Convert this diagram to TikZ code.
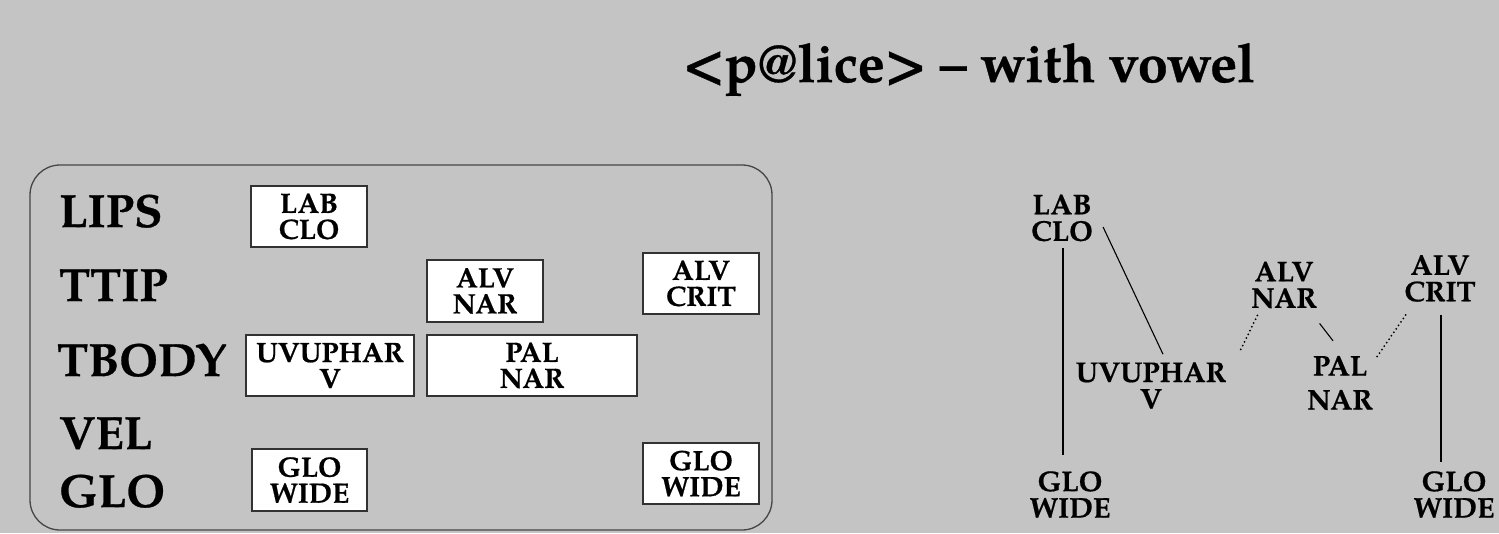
\documentclass[tikz,border=0pt]{standalone}
\usepackage{fontspec}
\setmainfont{texgyrepagella}[Extension=.otf,UprightFont=*-regular,BoldFont=*-bold,ItalicFont=*-italic,BoldItalicFont=*-bolditalic,BoldFeatures={FakeBold=0.6}]
\usetikzlibrary{calc}
\definecolor{bg}{RGB}{195,196,195}
\definecolor{frame}{RGB}{70,70,70}
\definecolor{boxline}{RGB}{50,50,50}
\tikzset{
  rowlabel/.style={anchor=base west,inner sep=0pt,font=\bfseries\fontsize{46.5}{50}\selectfont},
  gbox/.style={draw=boxline,line width=1.1pt,fill=white,align=center,inner sep=0pt,font=\bfseries\fontsize{28}{26}\selectfont},
  plain/.style={align=center,inner sep=0pt,font=\bfseries\fontsize{28.5}{26.5}\selectfont},
  link/.style={line width=1.1pt,black},
  dotlink/.style={line width=2pt,black,dash pattern=on 0pt off 4.2pt,line cap=round}
}
\begin{document}
\begin{tikzpicture}[x=1pt,y=-1pt]
\useasboundingbox (0,0) rectangle (1499,533);
\fill[bg] (0,0) rectangle (1499,533);
% title
\node[anchor=base,inner sep=0pt,font=\bfseries\fontsize{54}{60}\selectfont] (title) at (969,82) {<p@lice> – with vowel};
% frame
\draw[frame,line width=1.3pt,rounded corners=30pt] (30,165) rectangle (772,530);
% row labels
\node[rowlabel] (lips) at (59,227) {LIPS};
\node[rowlabel] (ttip) at (59,301) {TTIP};
\node[rowlabel] (tbody) at (57,376) {TBODY};
\node[rowlabel] (vel) at (59,449) {VEL};
\node[rowlabel] (glo) at (59,507) {GLO};
% gestural boxes
\node[gbox,minimum width=116pt,minimum height=61pt] (blab) at (309,216.5) {LAB\\CLO};
\node[gbox,minimum width=168pt,minimum height=61pt] (buvu) at (330,365.5) {UVUPHAR\\V};
\node[gbox,minimum width=115pt,minimum height=62pt] (bglol) at (309.5,480) {GLO\\WIDE};
\node[gbox,minimum width=116pt,minimum height=62pt] (balvnar) at (485,291) {ALV\\NAR};
\node[gbox,minimum width=210pt,minimum height=61pt] (bpal) at (532,365.5) {PAL\\NAR};
\node[gbox,minimum width=116pt,minimum height=61pt] (balvcrit) at (701,283.5) {ALV\\CRIT};
\node[gbox,minimum width=116pt,minimum height=61pt] (bglor) at (701,473.5) {GLO\\WIDE};
% right-hand graph
\node[plain] (rlab) at (1062,218) {LAB\\CLO};
\node[plain] (rglol) at (1070,494.5) {GLO\\WIDE};
\node[plain] (ruvu) at (1151,385.5) {UVUPHAR\\V};
\node[plain] (ralvnar) at (1284,285) {ALV\\NAR};
\node[plain,font=\bfseries\fontsize{28.5}{34}\selectfont] (rpal) at (1340,383) {PAL\\NAR};
\node[plain] (ralvcrit) at (1440,278.5) {ALV\\CRIT};
\node[plain] (rglor) at (1454,494.5) {GLO\\WIDE};
% connectors
\draw[link] ($(rlab.south)+(1,7)$) -- ($(rlab.south |- rglol.north)+(1,-16)$);
\draw[link] ($(rlab.east)+(10,9)$) -- ($(ruvu.north)+(12,-8)$);
\draw[dotlink] ($(ralvnar.south west)+(6.5,7)$) -- ($(ruvu.north east)+(13,-10)$);
\draw[link] ($(ralvnar.south east)+(2.5,15)$) -- ($(rpal.north)+(-7,-15)$);
\draw[dotlink] ($(ralvcrit.south west)+(1.5,13)$) -- ($(rpal.north east)+(2.5,3)$);
\draw[link] ($(ralvcrit.south)+(1,13)$) -- ($(ralvcrit.south |- rglor.north)+(1,-9)$);
\end{tikzpicture}
\end{document}
